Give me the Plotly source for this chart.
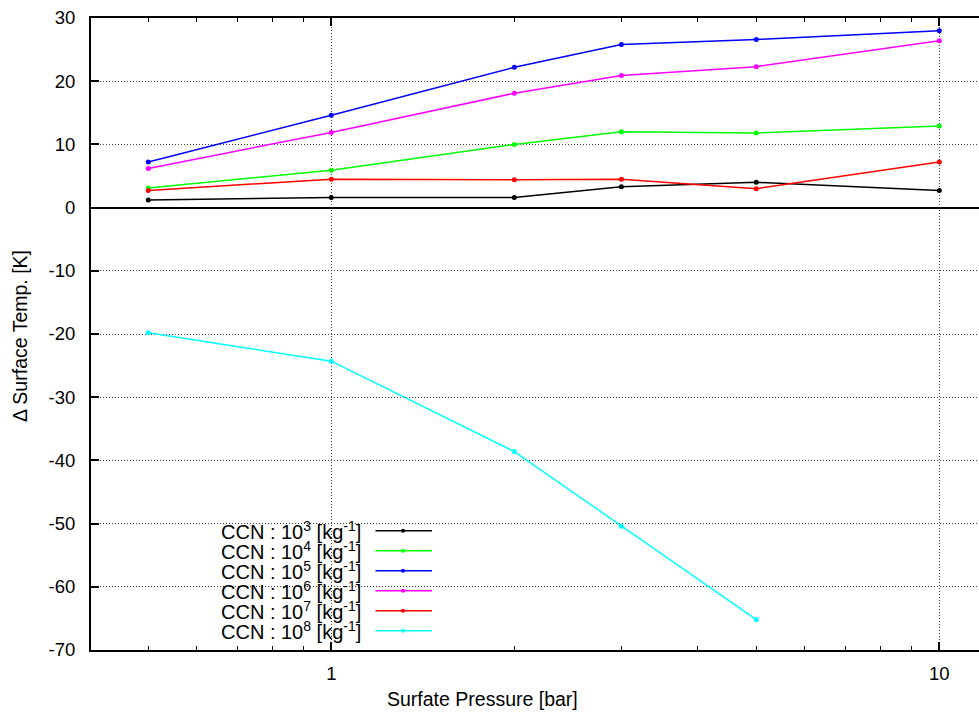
import plotly.graph_objects as go

# Surface pressure [bar]
pressure = [0.5, 1, 2, 3, 5, 10]

# Change in surface temperature [K] for each CCN number concentration
dT_ccn_1e3 = [1.2, 1.6, 1.6, 3.3, 4.0, 2.7]
dT_ccn_1e4 = [3.1, 5.9, 10.0, 12.0, 11.8, 12.9]
dT_ccn_1e5 = [7.2, 14.6, 22.2, 25.8, 26.6, 28.0]
dT_ccn_1e6 = [6.2, 11.9, 18.1, 20.9, 22.3, 26.4]
dT_ccn_1e7 = [2.7, 4.5, 4.4, 4.5, 3.0, 7.2]
dT_ccn_1e8 = [-19.8, -24.3, -38.6, -50.4, -65.2]

series_names = [
    "CCN : 10<sup>3</sup> [kg<sup>-1</sup>]",
    "CCN : 10<sup>4</sup> [kg<sup>-1</sup>]",
    "CCN : 10<sup>5</sup> [kg<sup>-1</sup>]",
    "CCN : 10<sup>6</sup> [kg<sup>-1</sup>]",
    "CCN : 10<sup>7</sup> [kg<sup>-1</sup>]",
    "CCN : 10<sup>8</sup> [kg<sup>-1</sup>]",
]
series_values = [dT_ccn_1e3, dT_ccn_1e4, dT_ccn_1e5, dT_ccn_1e6, dT_ccn_1e7, dT_ccn_1e8]
colors = ["#000000", "#00ff00", "#0000ff", "#ff00ff", "#ff0000", "#00ffff"]

y_ticks = [30, 20, 10, 0, -10, -20, -30, -40, -50, -60, -70]
x_ticks = [1, 10]
x_minor = [0.5, 0.6, 0.7, 0.8, 0.9, 2, 3, 4, 5, 6, 7, 8, 9]

FONT = "Liberation Sans, Arial, sans-serif"
W, H = 979, 713
ML, MR, MT, MB = 91, 0, 18, 63
PW, PH = W - ML - MR, H - MT - MB

fig = go.Figure()
for name, vals, col in zip(series_names, series_values, colors):
    fig.add_trace(go.Scatter(
        x=pressure[:len(vals)], y=vals, mode="lines+markers", name=name,
        line=dict(color=col, width=1.5),
        marker=dict(color=col, size=5),
        showlegend=False,
    ))


def px_x(x):
    return (x - ML) / PW


def px_y(y):
    return (H - MB - y) / PH


# Key placed inside the plot: label text on the left, line sample on the right
shapes = []
annotations = []
for i, (name, col) in enumerate(zip(series_names, colors)):
    yy = 530.7 + 20 * i
    annotations.append(dict(
        x=px_x(363), y=px_y(yy), xref="paper", yref="paper",
        text=name, showarrow=False, xanchor="right", yanchor="middle",
        font=dict(family=FONT, size=20, color="black"),
    ))
    shapes.append(dict(
        type="line", xref="paper", yref="paper",
        x0=px_x(375.5), x1=px_x(432), y0=px_y(yy), y1=px_y(yy),
        line=dict(color=col, width=1.5),
    ))
    shapes.append(dict(
        type="circle", xref="paper", yref="paper",
        x0=px_x(401), x1=px_x(405), y0=px_y(yy + 2), y1=px_y(yy - 2),
        line=dict(color=col, width=0), fillcolor=col,
    ))

annotations.append(dict(
    x=px_x(482), y=px_y(699), xref="paper", yref="paper",
    text="Surfate Pressure [bar]", showarrow=False,
    xanchor="center", yanchor="middle",
    font=dict(family=FONT, size=19.5, color="black"),
))
annotations.append(dict(
    x=px_x(20), y=px_y(336), xref="paper", yref="paper",
    text="Δ Surface Temp. [K]", showarrow=False, textangle=-90,
    xanchor="center", yanchor="middle",
    font=dict(family=FONT, size=19.5, color="black"),
))

fig.update_layout(
    width=W, height=H,
    margin=dict(l=ML, r=MR, t=MT, b=MB),
    paper_bgcolor="white", plot_bgcolor="white",
    font=dict(family=FONT, size=18, color="black"),
    shapes=shapes, annotations=annotations,
    xaxis=dict(
        type="log", range=[-0.3952, 1.0653],
        tickvals=x_ticks, ticktext=[str(v) for v in x_ticks],
        ticks="inside", ticklen=8, tickwidth=1.5, tickcolor="black",
        showline=True, linecolor="black", linewidth=2, mirror="ticks",
        showgrid=True, gridcolor="#444444", gridwidth=1, griddash="1px,2px",
        zeroline=False,
        minor=dict(tickvals=x_minor, ticks="inside", ticklen=4,
                   tickwidth=1, tickcolor="black", showgrid=False),
        tickfont=dict(family=FONT, size=18.5),
        ticklabelstandoff=6,
    ),
    yaxis=dict(
        range=[-70, 30],
        tickvals=y_ticks, ticktext=[str(v) for v in y_ticks],
        ticks="inside", ticklen=8, tickwidth=1.5, tickcolor="black",
        showline=True, linecolor="black", linewidth=2, mirror=False,
        showgrid=True, gridcolor="#444444", gridwidth=1, griddash="1px,2px",
        zeroline=True, zerolinecolor="black", zerolinewidth=1.5,
        tickfont=dict(family=FONT, size=18.5),
        ticklabelstandoff=10,
    ),
)

fig.write_html("out.html")
